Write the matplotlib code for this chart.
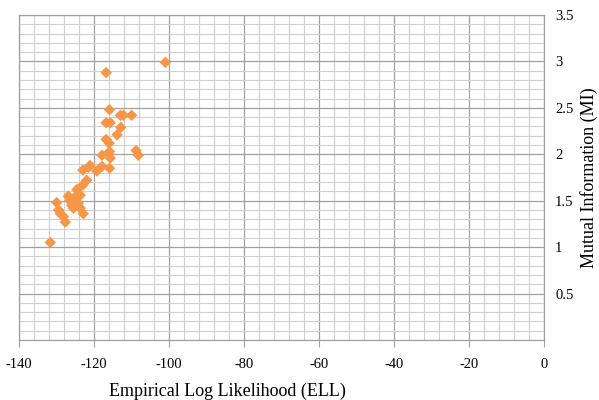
import matplotlib.pyplot as plt
from matplotlib.ticker import MultipleLocator
import numpy as np

plt.rcParams['font.family'] = ['Liberation Serif', 'DejaVu Serif']
plt.rcParams['axes.unicode_minus'] = False

# ELL vs MI
ell = [-101.0, -116.8, -115.9, -113.0, -112.2, -110.0, -116.8, -115.7,
       -112.9, -113.9, -116.8, -116.0, -108.8, -108.2, -115.9, -117.9,
       -115.7, -115.9, -117.9, -121.1, -123.0, -119.3, -122.0, -123.0,
       -124.6, -126.9, -125.1, -123.7, -124.2, -126.0, -130.0, -122.9,
       -129.5, -128.2, -127.7, -129.0, -131.7, -124.6, -123.7, -121.5,
       -126.5, -125.5]
mi = [2.99, 2.88, 2.48, 2.42, 2.42, 2.42, 2.34, 2.34,
      2.29, 2.21, 2.16, 2.12, 2.04, 1.99, 2.03, 1.99,
      1.96, 1.85, 1.87, 1.88, 1.83, 1.82, 1.72, 1.67,
      1.62, 1.55, 1.54, 1.56, 1.47, 1.45, 1.48, 1.36,
      1.40, 1.33, 1.27, 1.36, 1.05, 1.47, 1.42, 1.86,
      1.50, 1.42]

fig = plt.figure(figsize=(5.99, 4.0), dpi=100)
ax = fig.add_axes([0.032, 0.15, 0.876, 0.8125])

ax.scatter(ell, mi, marker='D', s=34, color='#F79646', edgecolors='none', zorder=3)

ax.set_xlim(-140, 0)
ax.set_ylim(0, 3.5)
ax.xaxis.set_major_locator(MultipleLocator(20))
ax.xaxis.set_minor_locator(MultipleLocator(4))
ax.yaxis.set_major_locator(MultipleLocator(0.5))
ax.yaxis.set_minor_locator(MultipleLocator(0.1))

ax.grid(which='major', color='#a0a0a0', linewidth=0.9)
ax.grid(which='minor', color='#d0d0d0', linewidth=0.8)
ax.set_axisbelow(True)

for s in ax.spines.values():
    s.set_color('#a0a0a0')
    s.set_linewidth(0.9)

ax.yaxis.tick_right()
ax.tick_params(axis='y', which='both', length=0, labelsize=10.5, pad=8)
ax.tick_params(axis='x', which='major', length=5, color='#a0a0a0', labelsize=10.5, pad=8)
ax.tick_params(axis='x', which='minor', length=0)

yt = np.arange(0.5, 3.51, 0.5)
ax.set_yticks(yt)
ax.set_yticklabels(['%g' % v for v in yt])

fig.text(0.999, 0.555, 'Mutual Information (MI)', rotation=90, fontsize=13,
         ha='right', va='center')
fig.text(0.38, 0.022, 'Empirical Log Likelihood (ELL)', fontsize=13,
         ha='center', va='center')

plt.savefig('out.png', dpi=100)
